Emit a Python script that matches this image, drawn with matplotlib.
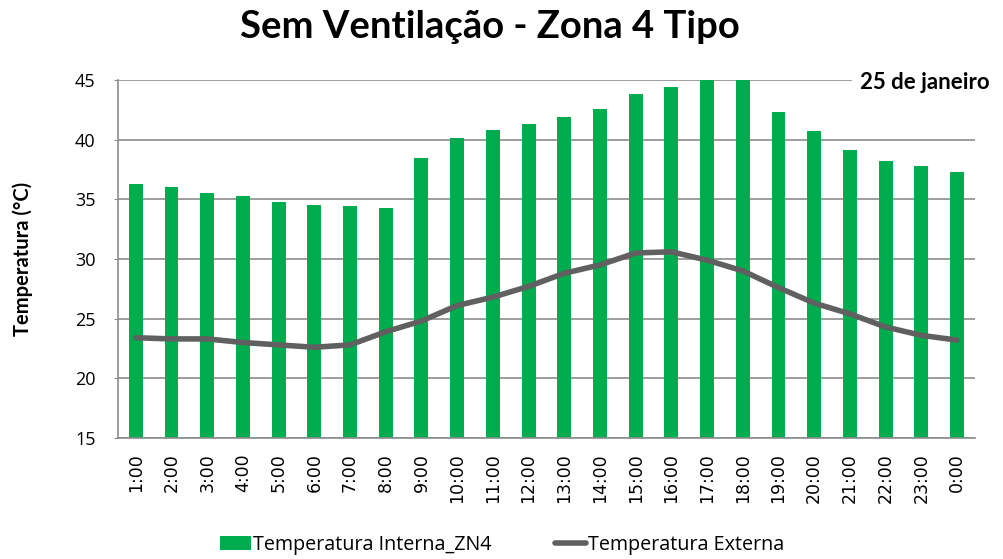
import numpy as np
import matplotlib
matplotlib.use('Agg')
import matplotlib.pyplot as plt
from matplotlib.lines import Line2D
from matplotlib.patches import Patch

hours = ['1:00', '2:00', '3:00', '4:00', '5:00', '6:00', '7:00', '8:00',
         '9:00', '10:00', '11:00', '12:00', '13:00', '14:00', '15:00', '16:00',
         '17:00', '18:00', '19:00', '20:00', '21:00', '22:00', '23:00', '0:00']
temp_interna = [36.3, 36.0, 35.55, 35.25, 34.8, 34.5, 34.4, 34.25,
                38.5, 40.1, 40.8, 41.3, 41.9, 42.6, 43.8, 44.4,
                45.3, 45.2, 42.3, 40.7, 39.1, 38.2, 37.8, 37.3]
temp_externa = [23.4, 23.3, 23.3, 23.0, 22.8, 22.6, 22.8, 23.9,
                24.8, 26.1, 26.8, 27.7, 28.8, 29.5, 30.5, 30.6,
                29.9, 29.0, 27.6, 26.3, 25.4, 24.3, 23.6, 23.2]

GREEN = '#00ad4e'
GREY = '#606060'
GRID = '#8c8c8c'
BOLD_FONT = 'Lato'

fig = plt.figure(figsize=(10.04, 5.59), dpi=100)
ax = fig.add_axes([0.1175, 0.2165, 0.8535, 0.6405])

x = np.arange(len(hours))
ax.bar(x, temp_interna, width=0.39, color=GREEN, zorder=2)
ax.plot(x, temp_externa, color=GREY, linewidth=4, solid_capstyle='round', zorder=3)

ax.set_xlim(-0.5, len(hours) - 0.5)
ax.set_ylim(15, 45)
ax.set_yticks(range(15, 46, 5))
ax.yaxis.grid(True, color=GRID, linewidth=1.2, zorder=0)
ax.set_axisbelow(True)
for s in ['top', 'right']:
    ax.spines[s].set_visible(False)
for s in ['left', 'bottom']:
    ax.spines[s].set_color(GRID)
    ax.spines[s].set_linewidth(1.2)

ax.set_xticks(x)
ax.set_xticklabels(hours, rotation=90, fontsize=12.5, family='DejaVu Sans')
ax.tick_params(axis='x', length=0, pad=11)
ax.tick_params(axis='y', length=3, color=GRID, pad=13)
for lab in ax.get_yticklabels():
    lab.set_family('Open Sans')
    lab.set_fontsize(13)

ax.set_ylabel('Temperatura (°C)', family=BOLD_FONT, fontweight='bold',
              fontsize=14.5, labelpad=30)

fig.text(0.4875, 0.952, 'Sem Ventilação - Zona 4 Tipo', ha='center', va='center',
         family=BOLD_FONT, fontweight='bold', fontsize=27.5)
fig.text(0.986, 0.853, '25 de janeiro', ha='right', va='center',
         family=BOLD_FONT, fontweight='bold', fontsize=16,
         bbox=dict(facecolor='white', edgecolor='none', pad=6))

handles = [Patch(facecolor=GREEN, edgecolor='none'),
           Line2D([0], [0], color=GREY, linewidth=4, solid_capstyle='round')]
fig.legend(handles, ['Temperatura Interna_ZN4', 'Temperatura Externa'],
           loc='center', bbox_to_anchor=(0.5, 0.025), ncol=2, frameon=False,
           prop={'family': 'Open Sans', 'size': 14.2},
           handlelength=1.6, handletextpad=0.1, columnspacing=3.2)

fig.savefig('out.png', dpi=100)
